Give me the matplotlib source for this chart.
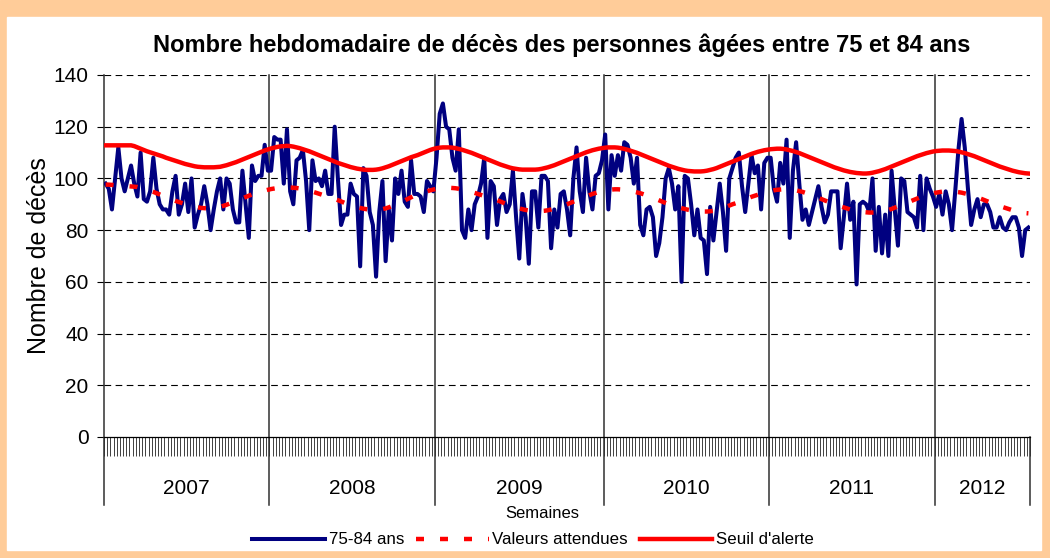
import numpy as np
import matplotlib
matplotlib.use("Agg")
import matplotlib.pyplot as plt
from matplotlib.patches import Rectangle
from matplotlib.lines import Line2D

plt.rcParams['font.family'] = ['Liberation Sans', 'DejaVu Sans']

# années et nombre de semaines affichées
annees = ['2007', '2008', '2009', '2010', '2011', '2012']
nb_semaines = [52, 52, 53, 52, 52, 30]

# décès hebdomadaires 75-84 ans
deces_2007 = [98, 96, 88, 100, 112, 100, 95, 100, 105, 98, 93, 110, 92, 91, 95, 108, 96, 90, 88, 88,
              86, 95, 101, 86, 90, 98, 87, 100, 81, 86, 90, 97, 90, 80, 88, 95, 100, 88, 100, 98,
              88, 83, 83, 103, 90, 77, 105, 99, 101, 101, 113, 103]
deces_2008 = [103, 116, 115, 115, 98, 119, 95, 90, 107, 108, 111, 99, 80, 107, 99, 100, 97, 103, 94, 94,
              120, 100, 82, 86, 86, 98, 94, 93, 66, 104, 101, 87, 82, 62, 87, 99, 68, 88, 76, 100,
              94, 103, 91, 89, 107, 94, 94, 93, 87, 99, 97, 95]
deces_2009 = [108, 125, 129, 120, 119, 108, 103, 119, 80, 77, 88, 80, 90, 93, 98, 108, 77, 99, 97, 82,
              92, 94, 87, 90, 103, 85, 69, 94, 85, 67, 95, 95, 81, 101, 101, 99, 73, 88, 81, 94,
              95, 88, 78, 100, 112, 95, 87, 108, 95, 88, 101, 102, 107]
deces_2010 = [117, 88, 109, 101, 109, 103, 114, 113, 108, 98, 108, 82, 78, 88, 89, 85, 70, 75, 85, 100,
              104, 98, 88, 97, 60, 101, 100, 90, 78, 88, 77, 76, 63, 89, 76, 87, 98, 87, 72, 100,
              104, 108, 110, 97, 87, 98, 109, 102, 105, 88, 106, 108]
deces_2011 = [108, 96, 91, 106, 98, 115, 77, 103, 114, 98, 84, 88, 82, 87, 92, 97, 89, 83, 86, 95,
              95, 95, 73, 85, 98, 84, 91, 59, 90, 91, 90, 87, 100, 72, 89, 71, 86, 70, 103, 88,
              74, 100, 99, 87, 86, 85, 81, 101, 80, 100, 96, 93]
deces_2012 = [89, 94, 86, 95, 90, 80, 95, 111, 123, 112, 96, 82, 88, 92, 85, 90, 90, 87, 81, 81,
              85, 81, 80, 83, 85, 85, 81, 70, 80, 81]

# valeurs attendues
attendu_2007 = [97.6, 97.6, 97.5, 97.4, 97.3, 97.2, 97.1, 97.0, 96.9, 96.8,
                96.7, 96.4, 96.0, 95.6, 95.2, 94.8, 94.3, 93.8, 93.3, 92.8,
                92.3, 91.8, 91.3, 90.9, 90.5, 90.1, 89.7, 89.4, 89.1, 88.8,
                88.6, 88.5, 88.4, 88.4, 88.5, 88.7, 89.0, 89.4, 89.8, 90.3,
                90.8, 91.3, 91.8, 92.3, 92.8, 93.3, 93.8, 94.2, 94.6, 95.0,
                95.3, 95.6]
attendu_2008 = [95.9, 96.1, 96.3, 96.4, 96.5, 96.5, 96.5, 96.4, 96.3, 96.1,
                95.9, 95.6, 95.3, 94.9, 94.5, 94.1, 93.7, 93.3, 92.9, 92.5,
                92.1, 91.6, 91.1, 90.6, 90.1, 89.7, 89.3, 88.9, 88.6, 88.3,
                88.1, 87.9, 87.8, 87.8, 87.9, 88.1, 88.4, 88.8, 89.3, 89.8,
                90.3, 90.9, 91.5, 92.1, 92.7, 93.3, 93.8, 94.2, 94.6, 95.0,
                95.4, 95.7]
attendu_2009 = [96.0, 96.2, 96.3, 96.4, 96.4, 96.3, 96.2, 96.0, 95.7, 95.4,
                95.1, 94.8, 94.4, 94.0, 93.6, 93.2, 92.8, 92.4, 92.0, 91.6,
                91.1, 90.6, 90.1, 89.6, 89.2, 88.8, 88.4, 88.1, 87.8, 87.6,
                87.5, 87.4, 87.4, 87.4, 87.5, 87.7, 88.0, 88.4, 88.8, 89.2,
                89.6, 90.0, 90.5, 91.0, 91.5, 92.0, 92.5, 93.0, 93.5, 94.0,
                94.4, 94.8, 95.1]
attendu_2010 = [95.4, 95.6, 95.7, 95.8, 95.8, 95.7, 95.6, 95.4, 95.2, 94.9,
                94.6, 94.3, 93.9, 93.5, 93.0, 92.5, 92.0, 91.5, 91.0, 90.5,
                90.0, 89.6, 89.2, 88.8, 88.5, 88.2, 87.9, 87.7, 87.5, 87.4,
                87.3, 87.2, 87.2, 87.3, 87.5, 87.8, 88.2, 88.6, 89.0, 89.5,
                90.0, 90.4, 90.9, 91.4, 91.9, 92.4, 92.9, 93.3, 93.7, 94.1,
                94.5, 94.8]
attendu_2011 = [95.1, 95.4, 95.6, 95.7, 95.8, 95.8, 95.7, 95.6, 95.4, 95.1,
                94.8, 94.4, 94.0, 93.5, 93.0, 92.5, 92.0, 91.5, 91.0, 90.5,
                90.0, 89.6, 89.2, 88.8, 88.4, 88.0, 87.7, 87.4, 87.2, 87.0,
                86.9, 86.8, 86.8, 86.8, 86.9, 87.1, 87.4, 87.8, 88.2, 88.7,
                89.2, 89.7, 90.2, 90.7, 91.2, 91.7, 92.2, 92.7, 93.1, 93.5,
                93.9, 94.2]
attendu_2012 = [94.5, 94.7, 94.9, 95.0, 95.0, 95.0, 94.9, 94.7, 94.5, 94.2,
                93.9, 93.5, 93.1, 92.7, 92.2, 91.7, 91.2, 90.7, 90.2, 89.7,
                89.3, 88.9, 88.5, 88.1, 87.7, 87.4, 87.1, 86.8, 86.6, 86.5]

# seuil d'alerte
seuil_2007 = [112.8, 112.8, 112.8, 112.8, 112.8, 112.8, 112.8, 112.8, 112.8, 112.5,
              112.0, 111.5, 111.0, 110.5, 110.1, 109.7, 109.3, 108.9, 108.5, 108.0,
              107.6, 107.2, 106.8, 106.4, 106.0, 105.6, 105.3, 105.0, 104.7, 104.5,
              104.4, 104.3, 104.3, 104.3, 104.3, 104.4, 104.5, 104.8, 105.1, 105.5,
              105.9, 106.3, 106.8, 107.3, 107.8, 108.3, 108.8, 109.3, 109.8, 110.3,
              110.8, 111.2]
seuil_2008 = [111.6, 111.9, 112.2, 112.4, 112.5, 112.6, 112.5, 112.3, 112.0, 111.7,
              111.3, 110.9, 110.5, 110.0, 109.5, 109.0, 108.5, 108.0, 107.5, 107.0,
              106.5, 106.0, 105.6, 105.2, 104.8, 104.4, 104.1, 103.8, 103.6, 103.4,
              103.3, 103.3, 103.3, 103.4, 103.6, 103.9, 104.3, 104.7, 105.2, 105.7,
              106.2, 106.7, 107.2, 107.7, 108.2, 108.6, 109.0, 109.5, 110.0, 110.5,
              111.0, 111.4]
seuil_2009 = [111.7, 111.9, 112.0, 112.0, 112.0, 111.9, 111.7, 111.4, 111.1, 110.7,
              110.3, 109.9, 109.4, 108.9, 108.4, 107.9, 107.4, 106.9, 106.4, 105.9,
              105.4, 105.0, 104.6, 104.2, 103.9, 103.7, 103.5, 103.4, 103.4, 103.4,
              103.4, 103.4, 103.5, 103.7, 104.0, 104.3, 104.7, 105.1, 105.6, 106.1,
              106.6, 107.1, 107.6, 108.1, 108.6, 109.1, 109.6, 110.1, 110.5, 110.9,
              111.2, 111.5, 111.7]
seuil_2010 = [111.9, 112.0, 112.0, 112.0, 111.9, 111.7, 111.4, 111.1, 110.7, 110.3,
              109.9, 109.4, 108.9, 108.4, 107.9, 107.4, 106.9, 106.4, 105.9, 105.4,
              104.9, 104.5, 104.1, 103.7, 103.4, 103.1, 102.9, 102.8, 102.7, 102.7,
              102.7, 102.8, 103.0, 103.3, 103.6, 104.0, 104.5, 105.0, 105.5, 106.0,
              106.5, 107.0, 107.5, 108.0, 108.5, 109.0, 109.5, 109.9, 110.3, 110.6,
              110.9, 111.1]
seuil_2011 = [111.3, 111.4, 111.5, 111.5, 111.4, 111.2, 110.9, 110.6, 110.2, 109.8,
              109.3, 108.8, 108.3, 107.8, 107.3, 106.8, 106.3, 105.8, 105.3, 104.8,
              104.3, 103.9, 103.5, 103.1, 102.8, 102.5, 102.3, 102.1, 102.0, 101.9,
              101.9, 102.0, 102.2, 102.5, 102.8, 103.2, 103.6, 104.1, 104.6, 105.1,
              105.6, 106.1, 106.6, 107.1, 107.6, 108.1, 108.6, 109.0, 109.4, 109.8,
              110.1, 110.4]
seuil_2012 = [110.6, 110.7, 110.8, 110.8, 110.8, 110.7, 110.6, 110.4, 110.1, 109.8,
              109.4, 109.0, 108.6, 108.1, 107.6, 107.1, 106.6, 106.1, 105.6, 105.1,
              104.6, 104.2, 103.8, 103.4, 103.0, 102.7, 102.4, 102.2, 102.0, 101.9]

deces = deces_2007 + deces_2008 + deces_2009 + deces_2010 + deces_2011 + deces_2012
attendu = attendu_2007 + attendu_2008 + attendu_2009 + attendu_2010 + attendu_2011 + attendu_2012
seuil = seuil_2007 + seuil_2008 + seuil_2009 + seuil_2010 + seuil_2011 + seuil_2012
semaines = np.arange(len(deces))

W, H = 1050, 558
fig = plt.figure(figsize=(W / 100, H / 100), dpi=100)

# cadre orange autour du graphique
fig.patches.append(Rectangle((0, 0), 1, 1, transform=fig.transFigure, color='#FFCC99', zorder=-10))
fig.patches.append(Rectangle((7 / W, 1 - 550 / H), (1041 - 7) / W, (550 - 17) / H,
                             transform=fig.transFigure, color='white', zorder=-9))

ax = fig.add_axes([104 / W, 1 - 437 / H, (1030 - 104) / W, (437 - 75) / H])
ax.set_facecolor('none')

ax.plot(semaines, deces, color='#000080', lw=2.9, label='75-84 ans', zorder=3, solid_joinstyle='round')
ax.plot(semaines, attendu, color='#FF0000', lw=3.2, ls=(0, (1.8, 3.6)), label='Valeurs attendues', zorder=4)
ax.plot(semaines, seuil, color='#FF0000', lw=3.2, label="Seuil d'alerte", zorder=4)

ax.set_ylim(0, 140)
ax.set_yticks(range(0, 141, 20))
ax.set_xlim(-0.5, len(deces) - 0.5)
ax.tick_params(axis='y', labelsize=15, length=5, width=0.8, pad=6)
for v in range(20, 141, 20):
    ax.axhline(v, color='black', lw=0.8, ls=(0, (6, 4)), zorder=1)

# une graduation par semaine
ax.set_xticks(np.arange(-0.5, len(deces), 1))
ax.set_xticklabels([])
ax.tick_params(axis='x', length=14, width=0.7, color='#404040')

for s in ['top', 'right']:
    ax.spines[s].set_visible(False)
ax.spines['left'].set_visible(False)
ax.spines['bottom'].set_linewidth(0.9)

bas = -(505 - 437) / (437 - 75)
bornes = np.concatenate([[0], np.cumsum(nb_semaines)]) - 0.5
trans = ax.get_xaxis_transform()
for i, b in enumerate(bornes):
    top = 0 if i == len(bornes) - 1 else 1
    ax.add_line(Line2D([b, b], [bas, top], transform=trans, color='#303030', lw=1.1,
                       clip_on=False, zorder=2))
for i, an in enumerate(annees):
    centre = (bornes[i] + bornes[i + 1]) / 2
    ax.text(centre, -(488 - 437) / (437 - 75), an, transform=trans, ha='center', va='center',
            fontsize=15)

ax.set_ylabel('Nombre de décès', fontsize=18, labelpad=2)
fig.text(542 / W, 1 - 514 / H, 'Semaines', ha='center', va='center', fontsize=12)
fig.text(562 / W, 1 - 45 / H, 'Nombre hebdomadaire de décès des personnes âgées entre 75 et 84 ans',
         ha='center', va='center', fontsize=17, fontweight='bold')

fig.legend(loc='center', bbox_to_anchor=(533 / W, 1 - 540 / H), ncol=3, frameon=False,
           fontsize=12.2, handlelength=4.3, handletextpad=0.2, columnspacing=0.7)

fig.savefig('out.png', dpi=100)
